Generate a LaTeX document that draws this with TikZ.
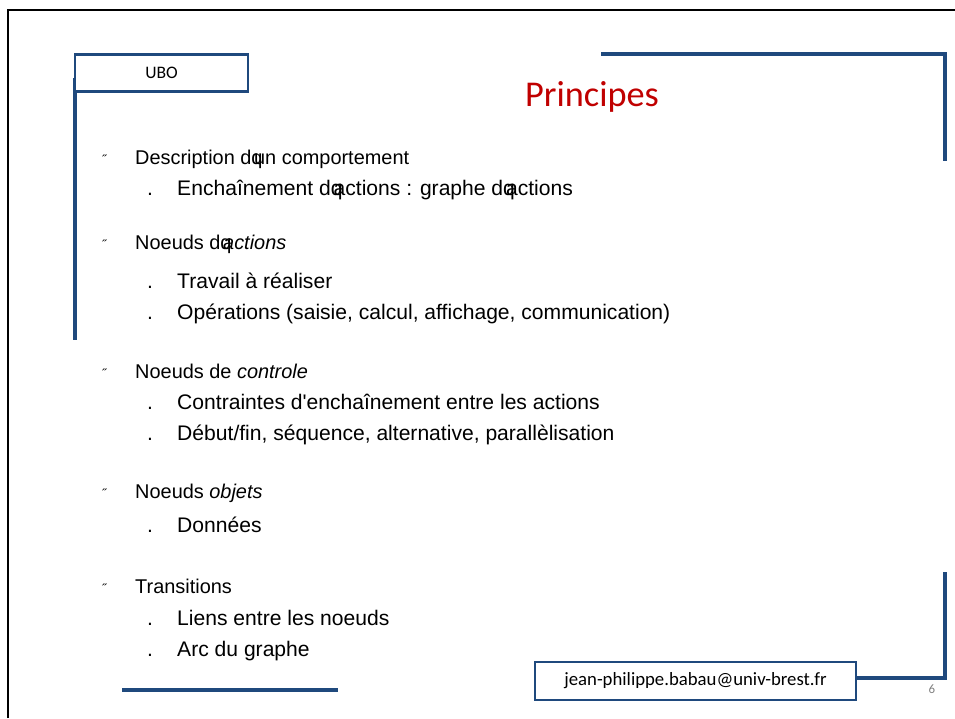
\documentclass[tikz,border=0pt]{standalone}
\usepackage{fontspec}
\setmainfont{Liberation Sans}
\newfontfamily\calibri{Carlito}
\definecolor{slideblue}{RGB}{31,73,125}
\definecolor{titlered}{RGB}{192,0,0}
\newcommand{\qap}{q\kern-0.42em}

\begin{document}
\begin{tikzpicture}[x=0.03cm,y=-0.03cm,
    bar/.style={slideblue,line width=3.4pt},
    tag/.style={draw=slideblue,line width=2pt,inner sep=0pt,font=\calibri\fontsize{15}{18}\selectfont},
    lvlone/.style={anchor=base west,inner sep=0pt,font=\fontsize{17}{21}\selectfont},
    lvltwo/.style={anchor=base west,inner sep=0pt,font=\fontsize{18}{21}\selectfont}]
    \useasboundingbox (0,0) rectangle (955,718);
    % page frame
    \draw[black,line width=1.7pt] (8,718) -- (8,10) -- (955,10);
    % blue frame pieces
    \draw[bar] (75,78) -- (75,340);
    \draw[bar] (601,54) -- (945,54) -- (945,161);
    \draw[bar] (122,690) -- (338,690);
    \node[tag,minimum width=173*0.03cm,minimum height=37*0.03cm,fill=white] (ubo) at (161.5,73) {UBO};
    \node[tag,minimum width=321*0.03cm,minimum height=38*0.03cm,font=\calibri\fontsize{16}{19}\selectfont] (mail) at (695.5,681) {jean-philippe.babau@univ-brest.fr};
    \draw[bar] (mail.east |- 0,678) -- (945,678) -- (945,572);
    \node[text=gray,font=\calibri\fontsize{11}{13}\selectfont] (num) at (932,689) {6};
    % title
    \node[text=titlered,font=\calibri\fontsize{31}{36}\selectfont] (title) at (592,97) {Principes};
    % main items
    \foreach \i/\y/\txt in {1/164/{Description d\qap un comportement},
        2/249/{Noeuds d\qap\textit{actions}},
        3/378/{Noeuds de \textit{controle}},
        4/498/{Noeuds \textit{objets}},
        5/593/{Transitions}}{
        \node[lvlone] (mark\i) at (102,\y) {\fontsize{11}{13}\selectfont ˝};
        \node[lvlone] (item\i) at (135,\y) {\txt};
    }
    % sub items
    \foreach \i/\y/\txt in {1/195/{Encha\^inement d\qap actions : graphe d\qap actions},
        2/288/{Travail à réaliser},
        3/319/{Opérations (saisie, calcul, affichage, communication)},
        4/409/{Contraintes d\textquotesingle encha\^inement entre les actions},
        5/440/{Début/fin, séquence, alternative, parallèlisation},
        6/532/{Données},
        7/625/{Liens entre les noeuds},
        8/656/{Arc du graphe}}{
        \node[lvltwo] (dot\i) at (147,\y) {.};
        \node[lvltwo] (sub\i) at (177,\y) {\txt};
    }
\end{tikzpicture}
\end{document}
